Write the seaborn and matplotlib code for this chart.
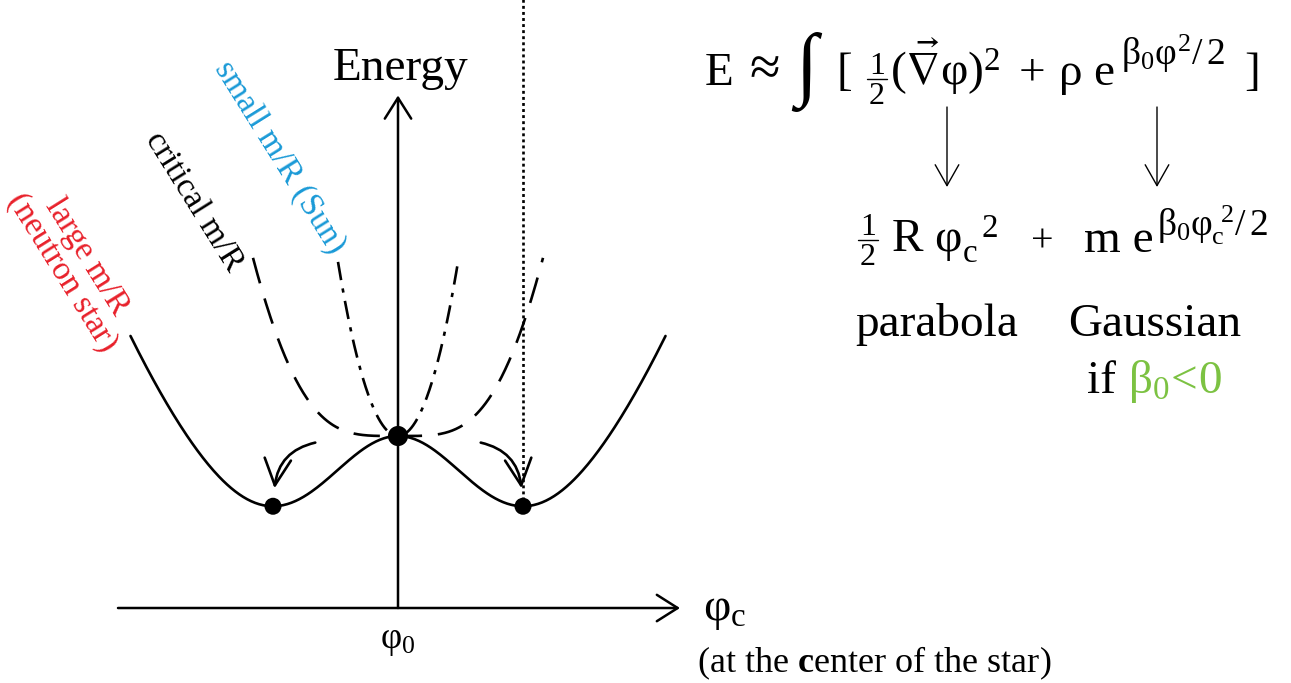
import numpy as np
import pandas as pd
import matplotlib
matplotlib.use("Agg")
import matplotlib.pyplot as plt
import seaborn as sns
from matplotlib.patches import FancyArrowPatch

# Energy of a star as a function of the central field value:
#   E(phi_c) = 1/2 R phi_c^2 + m exp(beta0 phi_c^2 / 2)
curve_names = ["large m/R (neutron star)", "critical m/R", "small m/R (Sun)"]
half_R = [0.345, 1.40, 5.59]          # 1/2 R for each curve (m fixed)
mass = 1.0
beta0 = -2.8
phi_extent = [2.14, 1.16, 0.48]       # drawn range of phi_c for each curve
curve_styles = ["-", (0, (10, 6)), (0, (7, 3.2, 1.6, 3.2))]

# stationary points of the large m/R curve (two minima and the maximum at phi_0)
phi_points = [-1.0, 0.0, 1.0]
point_sizes = [150, 210, 150]

label_colors = {"large": "#e8202a", "critical": "black", "small": "#1a9ad7"}
green = "#7cc242"


def energy(phi, hr):
    return hr * phi ** 2 + mass * np.exp(beta0 * phi ** 2 / 2)


sns.set_theme(style="white")
plt.rcParams["font.family"] = ["Liberation Serif", "DejaVu Serif"]
plt.rcParams["text.color"] = "black"
plt.rcParams["mathtext.fontset"] = "custom"
plt.rcParams["mathtext.rm"] = "Liberation Serif"
plt.rcParams["mathtext.it"] = "Liberation Serif"
plt.rcParams["mathtext.bf"] = "Liberation Serif:bold"
plt.rcParams["mathtext.fallback"] = "stix"

W, H = 1291, 683
fig = plt.figure(figsize=(W / 100, H / 100), dpi=100)
fig.patch.set_facecolor("white")

# diagram axes in (phi_c, E) units
ax = fig.add_axes([0, 0, 1, 1])
ax.set_xlim(-3.184, 7.144)
ax.set_ylim(-0.436, 3.535)
ax.axis("off")

rows = []
for name, hr, ext in zip(curve_names, half_R, phi_extent):
    phi = np.linspace(-ext, ext, 400)
    rows.append(pd.DataFrame({"phi": phi, "E": energy(phi, hr), "curve": name}))
curves = pd.concat(rows, ignore_index=True)

for name, ls in zip(curve_names, curve_styles):
    sub = curves[curves["curve"] == name]
    sns.lineplot(data=sub, x="phi", y="E", ax=ax, color="black", lw=1.9,
                 linestyle=ls, sort=False, estimator=None, legend=False, zorder=3)

pts = pd.DataFrame({"phi": phi_points,
                    "E": [energy(p, half_R[0]) for p in phi_points],
                    "s": point_sizes})
sns.scatterplot(data=pts, x="phi", y="E", size="s", sizes=(150, 210), color="black",
                edgecolor="none", ax=ax, legend=False, zorder=5)

# dotted marker above the right-hand minimum
vline = pd.DataFrame({"phi": [phi_points[2], phi_points[2]],
                      "E": [pts["E"].iloc[2], 3.6]})
sns.lineplot(data=vline, x="phi", y="E", ax=ax, color="black", lw=1.9,
             linestyle=(0, (1.1, 1.2)), sort=False, estimator=None, legend=False)

# coordinate axes with open arrowheads
axis_arrow = dict(arrowstyle="->,head_length=1.5,head_width=0.95", lw=1.8,
                  color="black", shrinkA=0, shrinkB=0, mutation_scale=10)
ax.annotate("", xy=(2.256, 0), xytext=(-2.24, 0), arrowprops=axis_arrow)
ax.annotate("", xy=(0, 2.98), xytext=(0, 0), arrowprops=axis_arrow)

# curved arrows: rolling from the maximum into the minima
for side, rad in ((-1, 0.38), (1, -0.38)):
    arr = FancyArrowPatch((side * 0.64, 0.965), (side * 0.99, 0.68),
                          connectionstyle=f"arc3,rad={rad}",
                          arrowstyle="->,head_length=1.9,head_width=0.95",
                          mutation_scale=10, lw=1.9, color="black", zorder=4)
    ax.add_patch(arr)

# text layer in pixel coordinates
tax = fig.add_axes([0, 0, 1, 1])
tax.set_xlim(0, W)
tax.set_ylim(H, 0)
tax.axis("off")
tax.patch.set_visible(False)

FS = 34
SUP = 27


def half(xc, ybar, size=23):
    """Stacked 1/2 with its bar at pixel height ybar."""
    tax.text(xc, ybar - 5, "1", fontsize=size, ha="center", va="baseline")
    tax.text(xc, ybar + 25, "2", fontsize=size, ha="center", va="baseline")
    tax.plot([xc - 10, xc + 10], [ybar, ybar], color="black", lw=1.0)


tax.text(400, 80, "Energy", fontsize=FS, ha="center", va="baseline")
tax.text(398, 648, r"$\varphi_0$", fontsize=FS * 0.78, ha="center", va="baseline")
tax.text(703, 620, r"$\varphi_{\mathrm{c}}$", fontsize=FS, ha="left", va="baseline")
tax.text(697, 672, r"(at the $\mathbf{c}$enter of the star)", fontsize=26,
         ha="left", va="baseline")

# rotated curve labels
tax.text(280, 157, "small m/R (Sun)", fontsize=24, rotation=-58,
         color=label_colors["small"], ha="center", va="center")
tax.text(194, 202, "critical m/R", fontsize=24, rotation=-58,
         color=label_colors["critical"], ha="center", va="center")
tax.text(74, 265, "large m/R\n(neutron star)", fontsize=24, rotation=-58,
         color=label_colors["large"], ha="center", va="center",
         multialignment="center", linespacing=0.95)

# energy functional
tax.text(705, 85, "E", fontsize=FS, ha="left", va="baseline")
tax.text(765, 85, "\u2248", fontsize=40, ha="center", va="baseline")
tax.text(806, 72, "\u222b", fontsize=58, ha="center", va="center", fontweight="bold")
tax.text(837, 85, "[", fontsize=FS, ha="left", va="baseline")
half(877, 79)
tax.text(890, 85, r"$(\vec{\nabla}\varphi)^2$", fontsize=FS, ha="left", va="baseline")
tax.text(1032, 85, "+", fontsize=FS, ha="center", va="baseline")
tax.text(1058, 85, r"$\rho\ \mathrm{e}$", fontsize=FS, ha="left", va="baseline")
tax.text(1121, 65, r"$\beta_0\varphi^2/\,2$", fontsize=SUP, ha="left", va="baseline")
tax.text(1244, 85, "]", fontsize=FS, ha="left", va="baseline")

down = dict(arrowstyle="->,head_length=1.5,head_width=0.85", lw=1.0,
            color="black", shrinkA=0, shrinkB=0, mutation_scale=10)
for x in (947, 1157):
    tax.annotate("", xy=(x, 187), xytext=(x, 107), arrowprops=down)

half(868, 240)
tax.text(891, 252, r"$\mathrm{R}\ \varphi_{\mathrm{c}}^{\ \ 2}$",
         fontsize=FS, ha="left", va="baseline")
tax.text(1042, 252, "+", fontsize=FS * 0.85, ha="center", va="baseline")
tax.text(1084, 252, "m e", fontsize=FS, ha="left", va="baseline")
tax.text(1157, 236, r"$\beta_0\varphi_{\mathrm{c}}^{\ 2}/\,2$", fontsize=SUP,
         ha="left", va="baseline")

tax.text(855, 336, "parabola", fontsize=FS, ha="left", va="baseline")
tax.text(1068, 336, "Gaussian", fontsize=FS, ha="left", va="baseline")
tax.text(1087, 393, "if", fontsize=FS, ha="left", va="baseline")
tax.text(1128, 393, r"$\beta_0\!<\!0$", fontsize=FS, ha="left", va="baseline",
         color=green)

fig.savefig("out.png", dpi=100, facecolor="white")
